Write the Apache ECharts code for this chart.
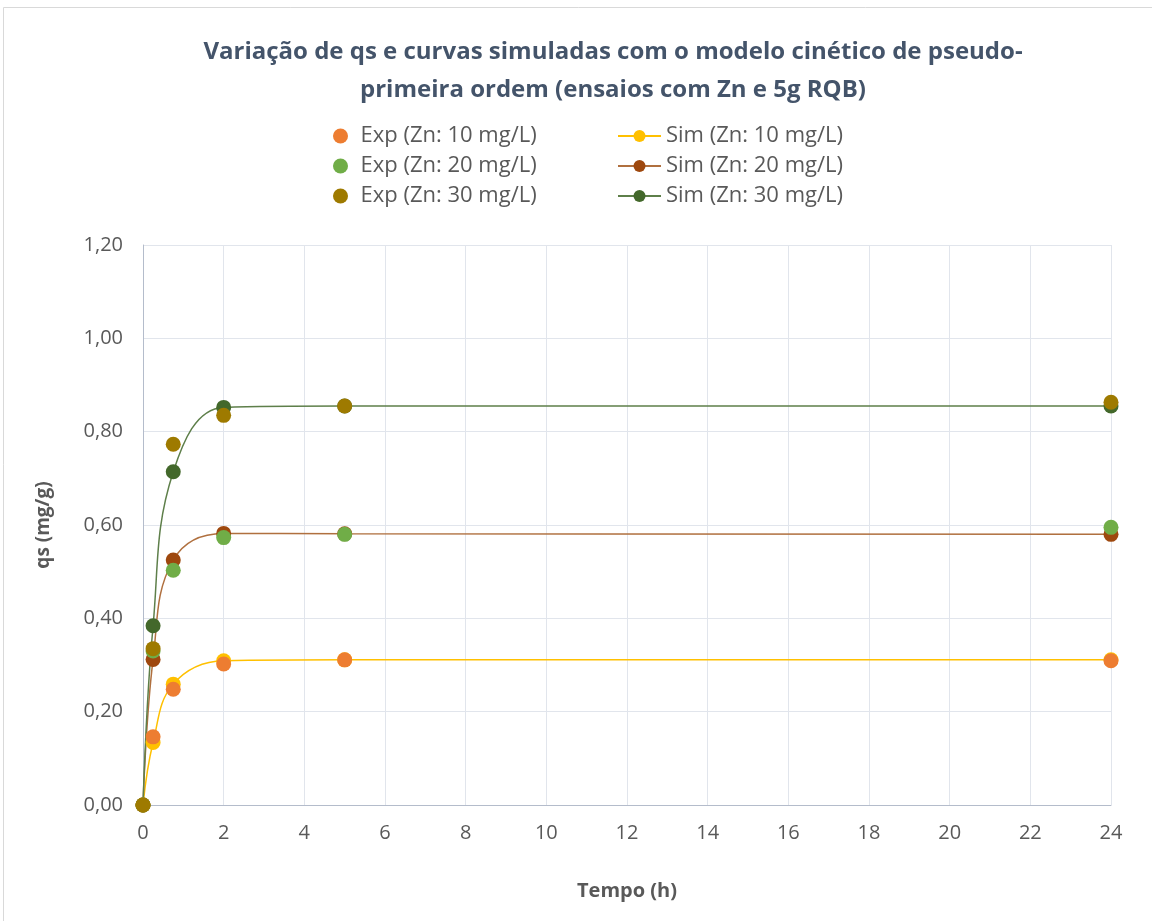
<!DOCTYPE html>
<html>
<head>
<meta charset="utf-8">
<script src="https://cdn.jsdelivr.net/npm/echarts@6/dist/echarts.min.js"></script>
<style>
html,body{margin:0;padding:0;background:#fff;}
#c{width:1152px;height:921px;}
</style>
</head>
<body>
<div id="c"></div>
<script>
var times = [0, 0.25, 0.75, 2, 5, 24];
var exp10 = [0, 0.146, 0.248, 0.302, 0.311, 0.309];
var exp20 = [0, 0.330, 0.503, 0.573, 0.580, 0.595];
var exp30 = [0, 0.335, 0.773, 0.835, 0.855, 0.863];
var sim10 = [0, 0.134, 0.259, 0.309, 0.311, 0.311];
var sim20 = [0, 0.312, 0.525, 0.582, 0.581, 0.580];
var sim30 = [0, 0.384, 0.714, 0.852, 0.855, 0.855];
var xTicks = {min: 0, max: 24, step: 2};
var yTicks = {min: 0, max: 1.2, step: 0.2};

function pairs(v){ return times.map(function(t,i){ return [t, v[i]]; }); }

var FONT = "'Open Sans', 'Liberation Sans', sans-serif";
var TXT = '#595959';

var chart = echarts.init(document.getElementById('c'), null, {renderer:'canvas'});

function simSeries(name, data, color, lineColor){
  return {
    name: name, type: 'line', data: pairs(data), smooth: 0.4,
    symbol: 'circle', symbolSize: 15,
    itemStyle: {color: color},
    lineStyle: {color: lineColor, width: 1.5},
    z: 2
  };
}
function expSeries(name, data, color){
  return {
    name: name, type: 'scatter', data: pairs(data),
    symbol: 'circle', symbolSize: 15,
    itemStyle: {color: color, opacity: 1},
    z: 3
  };
}

chart.setOption({
  animation: false,
  textStyle: {fontFamily: FONT},
  graphic: [
    {type:'rect', shape:{x:3.5, y:7.5, width:1160, height:920}, style:{fill:'none', stroke:'#d9d9d9', lineWidth:1}, silent:true},
    {type:'text', x:613, y:33, style:{text:'Variação de qs e curvas simuladas com o modelo cinético de pseudo-\nprimeira ordem (ensaios com Zn e 5g RQB)', font:'bold 24px ' + FONT, fill:'#44546A', align:'center', lineHeight:38}}
  ],
  legend: [
    {data:['Exp (Zn: 10 mg/L)','Exp (Zn: 20 mg/L)','Exp (Zn: 30 mg/L)'], orient:'vertical', left:328, top:120, itemGap:8, itemWidth:30, itemHeight:15,
     textStyle:{fontSize:22, color:TXT, fontFamily:FONT}},
    {data:['Sim (Zn: 10 mg/L)','Sim (Zn: 20 mg/L)','Sim (Zn: 30 mg/L)'], orient:'vertical', left:612, top:120, itemGap:8, itemWidth:43, itemHeight:15,
     textStyle:{fontSize:22, color:TXT, fontFamily:FONT}}
  ],
  grid: {left:143, right:41, top:245, bottom:116, containLabel:false},
  xAxis: {
    type:'value', min:xTicks.min, max:xTicks.max, interval:xTicks.step,
    name:'Tempo (h)', nameLocation:'middle', nameGap:76,
    nameTextStyle:{fontSize:20, fontWeight:'bold', color:TXT, fontFamily:FONT},
    axisLine:{show:true, onZero:false, lineStyle:{color:'#b4bccb', width:1}},
    axisTick:{show:false},
    axisLabel:{fontSize:20, color:TXT, margin:18},
    splitLine:{show:true, lineStyle:{color:'#e1e5ec', width:1}}
  },
  yAxis: {
    type:'value', min:yTicks.min, max:yTicks.max, interval:yTicks.step,
    name:'qs (mg/g)', nameLocation:'middle', nameGap:90, nameRotate:90,
    nameTextStyle:{fontSize:19, fontWeight:'bold', color:TXT, fontFamily:FONT},
    axisLine:{show:true, lineStyle:{color:'#b4bccb', width:1}},
    axisTick:{show:false},
    axisLabel:{fontSize:20, color:TXT, margin:20, formatter:function(v){ return v.toFixed(2).replace('.', ','); }},
    splitLine:{show:true, lineStyle:{color:'#e1e5ec', width:1}}
  },
  series: [
    simSeries('Sim (Zn: 10 mg/L)', sim10, '#FFC000', '#FFC000'),
    simSeries('Sim (Zn: 20 mg/L)', sim20, '#9E480E', '#B0703F'),
    simSeries('Sim (Zn: 30 mg/L)', sim30, '#43682B', '#5E7F4A'),
    expSeries('Exp (Zn: 10 mg/L)', exp10, '#ED7D31'),
    expSeries('Exp (Zn: 20 mg/L)', exp20, '#70AD47'),
    expSeries('Exp (Zn: 30 mg/L)', exp30, '#9E7A00')
  ]
});
</script>
</body>
</html>
